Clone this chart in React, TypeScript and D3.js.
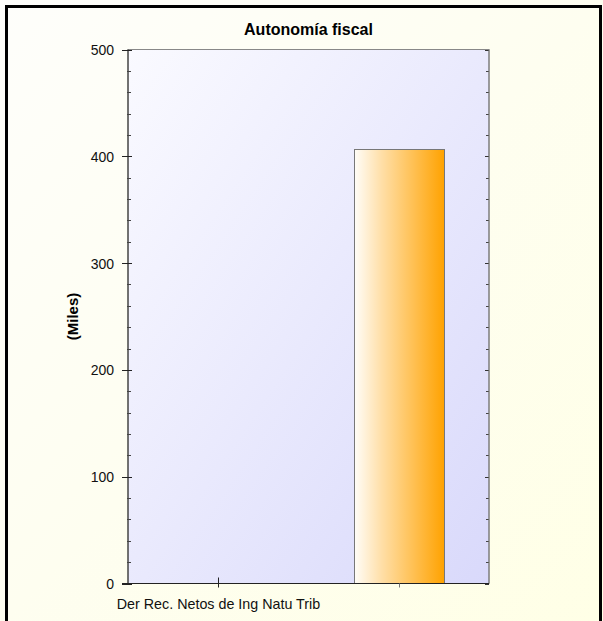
import React from "react";
import * as d3 from "d3";

const title = "Autonomía fiscal";
const yLabel = "(Miles)";
const categories = ["Der Rec. Netos de Ing Natu Trib", ""];
const values = [0, 407];
const yTicks = [0, 100, 200, 300, 400, 500];

export default function App() {
  const W = 603, H = 621;
  const m = { left: 128, top: 49.5, right: 489, bottom: 583.5 };
  const y = d3.scaleLinear().domain([0, 500]).range([m.bottom, m.top]);
  const x = d3.scaleBand<string>().domain(categories.map((c, i) => String(i))).range([m.left, m.right]).paddingInner(0).paddingOuter(0);
  const minor = d3.range(0, 501, 20).filter((v) => v % 100 !== 0);
  const font = "Arial, 'Liberation Sans', sans-serif";
  return (
    <svg width={W} height={H} style={{ position: "absolute", left: 0, top: 0 }}>
      <defs>
        <linearGradient id="bg" x1="0" y1="0" x2="1" y2="1">
          <stop offset="0" stopColor="#fefefb" />
          <stop offset="0.5" stopColor="#fefef0" />
          <stop offset="1" stopColor="#ffffe6" />
        </linearGradient>
        <linearGradient id="plot" x1="0" y1="0" x2="1" y2="1">
          <stop offset="0" stopColor="#fafaff" />
          <stop offset="1" stopColor="#d9d9fb" />
        </linearGradient>
        <linearGradient id="bar" x1="0" y1="0" x2="1" y2="0">
          <stop offset="0" stopColor="#fffdf8" />
          <stop offset="0.3" stopColor="#ffdfa8" />
          <stop offset="1" stopColor="#ffa200" />
        </linearGradient>
      </defs>
      <rect x={0} y={0} width={W} height={H} fill="url(#bg)" />
      <path d={`M6.5,${H} V6.5 H600.5 V${H}`} fill="none" stroke="#000" strokeWidth={3} />
      <text x={(m.left + m.right) / 2} y={35} textAnchor="middle" fontFamily={font} fontWeight="bold" fontSize={16}>{title}</text>
      <rect x={m.left} y={m.top} width={m.right - m.left} height={m.bottom - m.top} fill="url(#plot)" stroke="#888" strokeWidth={1} />
      {values.map((v, i) => v > 0 ? (
        <rect key={i} x={Math.round(x(String(i))! + x.bandwidth() * 0.25) + 0.5} y={Math.round(y(v)) + 0.5}
          width={Math.round(x.bandwidth() * 0.5)} height={m.bottom - Math.round(y(v)) - 0.5}
          fill="url(#bar)" stroke="#777" strokeWidth={1} />
      ) : null)}
      {/* left axis */}
      <line x1={m.left} x2={m.left} y1={m.top} y2={m.bottom} stroke="#222" />
      {yTicks.map((t) => (
        <g key={t}>
          <line x1={m.left - 6} x2={m.left + 4} y1={Math.round(y(t)) + 0.5} y2={Math.round(y(t)) + 0.5} stroke="#222" />
          <line x1={m.right - 4} x2={m.right} y1={Math.round(y(t)) + 0.5} y2={Math.round(y(t)) + 0.5} stroke="#333" />
          <text x={114} y={y(t) + 5.5} textAnchor="end" fontFamily={font} fontSize={14} fill="#111">{t}</text>
        </g>
      ))}
      {minor.map((t) => (
        <g key={t}>
          <line x1={m.left - 1} x2={m.left + 3} y1={Math.round(y(t)) + 0.5} y2={Math.round(y(t)) + 0.5} stroke="#444" />
          <line x1={m.right - 3} x2={m.right} y1={Math.round(y(t)) + 0.5} y2={Math.round(y(t)) + 0.5} stroke="#444" />
        </g>
      ))}
      <line x1={m.right} x2={m.right} y1={m.top} y2={m.bottom} stroke="#777" />
      {/* bottom axis */}
      <line x1={m.left - 6} x2={m.right} y1={m.bottom} y2={m.bottom} stroke="#222" />
      {categories.map((c, i) => {
        const cx = Math.round(x(String(i))! + x.bandwidth() / 2) + 0.5;
        return (
          <g key={i}>
            <line x1={cx} x2={cx} y1={c ? m.bottom - 6 : m.bottom} y2={m.bottom + 4} stroke={c ? "#222" : "#777"} />
            {c ? <text x={cx} y={609} textAnchor="middle" fontFamily={font} fontSize={14.3} fill="#111">{c}</text> : null}
          </g>
        );
      })}
      <text transform={`translate(78,${(m.top + m.bottom) / 2}) rotate(-90)`} textAnchor="middle" fontFamily={font} fontWeight="bold" fontSize={15}>{yLabel}</text>
    </svg>
  );
}
